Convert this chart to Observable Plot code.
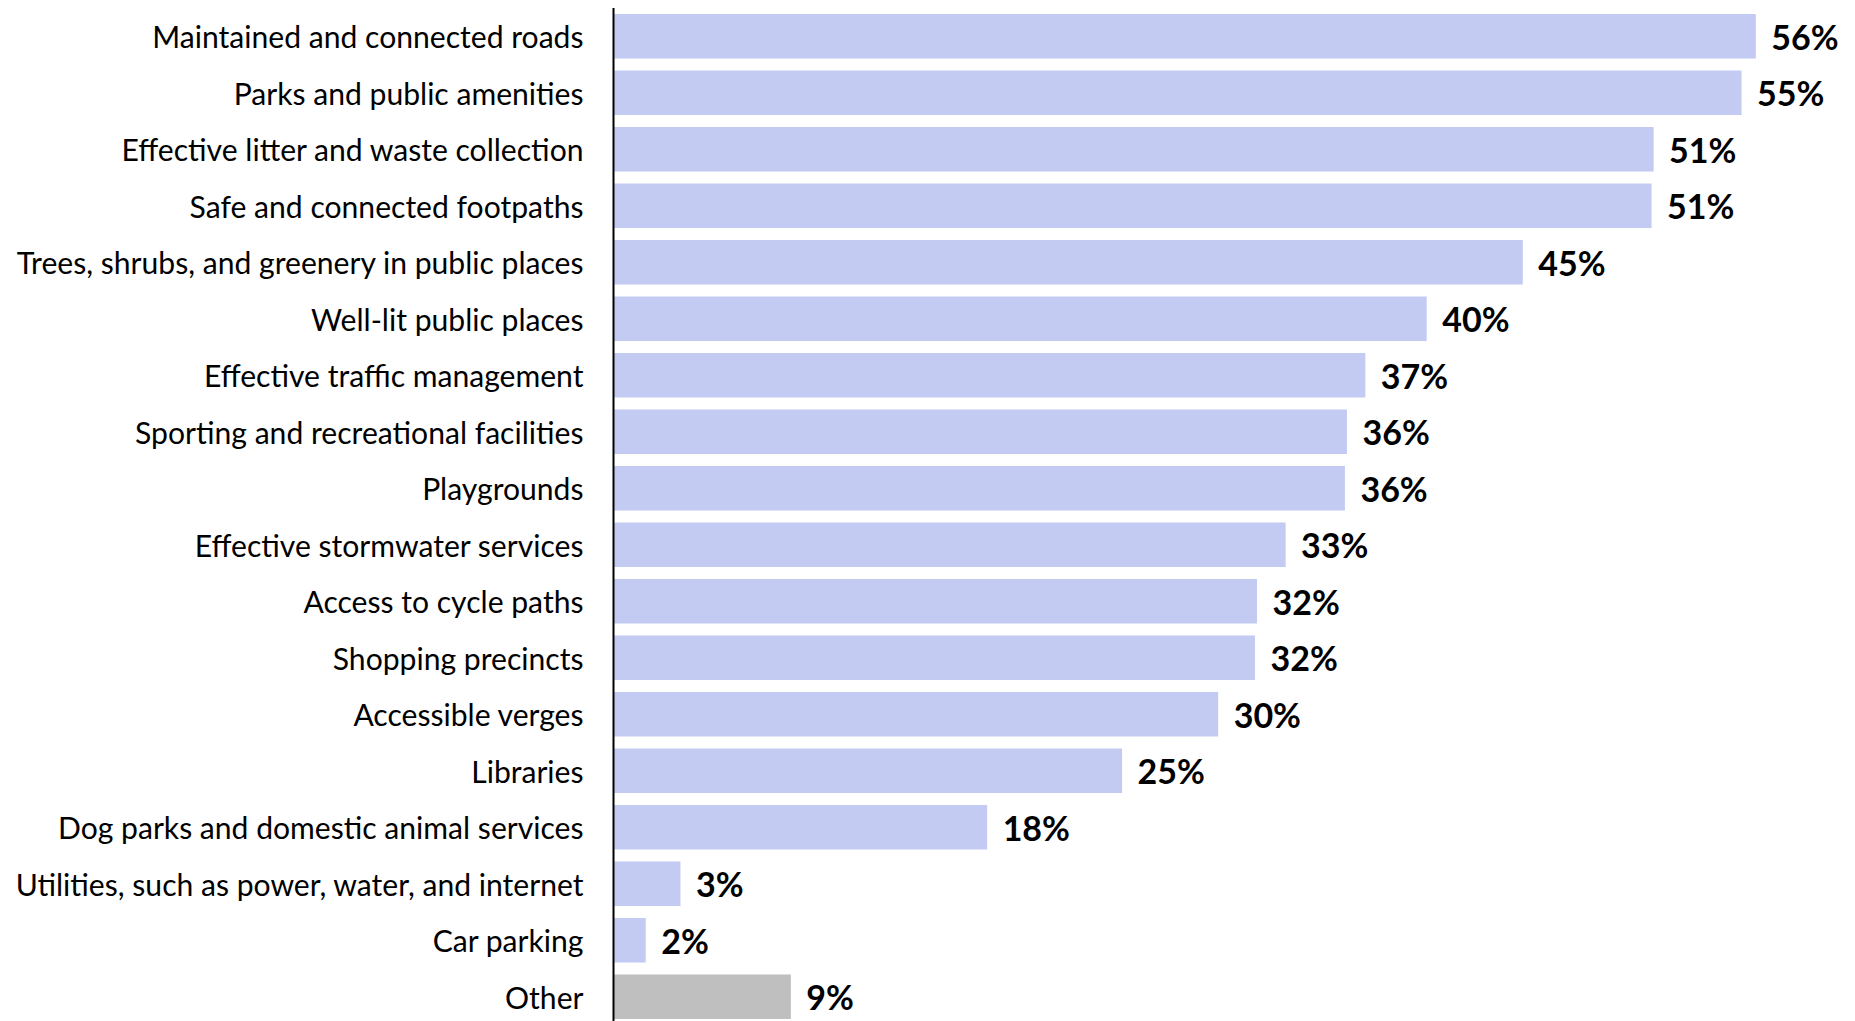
<!DOCTYPE html>
<html>
<head>
<meta charset="utf-8">
<script src="https://cdn.jsdelivr.net/npm/d3@7"></script>
<script src="https://cdn.jsdelivr.net/npm/@observablehq/plot@0.6"></script>
<style>
  html, body { margin: 0; padding: 0; background: #ffffff; }
  #chart { width: 1855px; height: 1021px; overflow: hidden; }
</style>
</head>
<body>
<div id="chart"></div>
<script>
const categories = [
  "Maintained and connected roads",
  "Parks and public amenities",
  "Effective litter and waste collection",
  "Safe and connected footpaths",
  "Trees, shrubs, and greenery in public places",
  "Well-lit public places",
  "Effective traffic management",
  "Sporting and recreational facilities",
  "Playgrounds",
  "Effective stormwater services",
  "Access to cycle paths",
  "Shopping precincts",
  "Accessible verges",
  "Libraries",
  "Dog parks and domestic animal services",
  "Utilities, such as power, water, and internet",
  "Car parking",
  "Other"
];
const values = [55.9, 55.2, 50.9, 50.8, 44.5, 39.8, 36.8, 35.9, 35.8, 32.9, 31.5, 31.4, 29.6, 24.9, 18.3, 3.3, 1.6, 8.7];
const valueLabels = ["56%", "55%", "51%", "51%", "45%", "40%", "37%", "36%", "36%", "33%", "32%", "32%", "30%", "25%", "18%", "3%", "2%", "9%"];
const groups = ["main","main","main","main","main","main","main","main","main","main","main","main","main","main","main","main","main","other"];
const groupColors = {main: "#c3cbf3", other: "#bfbfbf"};

const data = categories.map((c, i) => ({category: c, value: values[i], label: valueLabels[i], group: groups[i]}));

const chart = Plot.plot({
  width: 1855,
  height: 1021,
  marginLeft: 613,
  marginRight: 0,
  marginTop: 8,
  marginBottom: 0,
  style: {fontFamily: "Lato, 'Open Sans', sans-serif", background: "#ffffff", color: "#000000"},
  x: {domain: [0, 60.75], axis: null},
  y: {domain: categories, range: [10, 1023], paddingInner: 0.212, paddingOuter: 0.071, round: false, label: null},
  color: {type: "identity"},
  marks: [
    Plot.barX(data, {y: "category", x: "value", fill: d => groupColors[d.group]}),
    Plot.ruleX([0], {stroke: "#000000", strokeWidth: 2}),
    Plot.axisY({tickSize: 0, tickPadding: 30, fontSize: 30.1, dy: 2, label: null, fill: "#000000"}),
    Plot.text(data, {y: "category", x: "value", text: "label", dx: 15, dy: 2, textAnchor: "start", fontWeight: "bold", fontSize: 34, fill: "#000000"})
  ]
});
document.getElementById("chart").appendChild(chart);
</script>
</body>
</html>
